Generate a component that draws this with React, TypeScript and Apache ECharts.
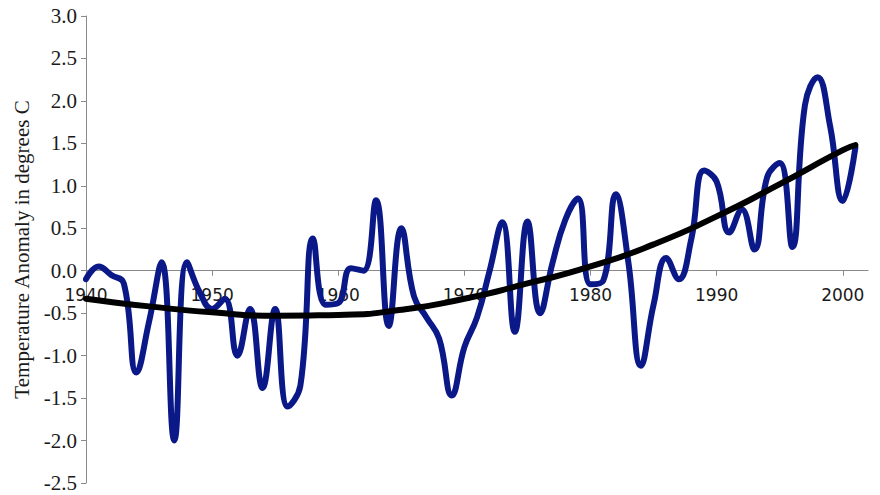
import React, { useEffect, useRef } from "react";
import * as echarts from "echarts";

const years = [
  1940, 1941, 1942, 1943, 1944, 1945, 1946, 1947, 1948, 1949,
  1950, 1951, 1952, 1953, 1954, 1955, 1956, 1957, 1958, 1959,
  1960, 1961, 1962, 1963, 1964, 1965, 1966, 1967, 1968, 1969,
  1970, 1971, 1972, 1973, 1974, 1975, 1976, 1977, 1978, 1979,
  1980, 1981, 1982, 1983, 1984, 1985, 1986, 1987, 1988, 1989,
  1990, 1991, 1992, 1993, 1994, 1995, 1996, 1997, 1998, 1999,
  2000, 2001,
];

const anomaly = [
  -0.1, 0.05, -0.05, -0.15, -1.2, -0.6, 0.1, -2.0, 0.1, -0.25,
  -0.45, -0.33, -1.0, -0.45, -1.38, -0.45, -1.6, -1.35, 0.38, -0.4,
  -0.38, 0.03, 0.0, 0.83, -0.65, 0.5, -0.3, -0.55, -0.8, -1.47,
  -0.9, -0.55, 0.0, 0.57, -0.72, 0.58, -0.5, 0.1, 0.6, 0.85,
  -0.16, -0.12, 0.9, 0.1, -1.12, -0.4, 0.15, -0.1, 0.38, 1.18,
  1.05, 0.45, 0.72, 0.25, 1.1, 1.27, 0.28, 1.95, 2.28, 1.7,
  0.82, 1.45,
];

const trendYears = [1940, 1945, 1950, 1955, 1960, 1965, 1970, 1975, 1980, 1985, 1990, 1995, 2000, 2001];
const trendValues = [-0.33, -0.42, -0.49, -0.53, -0.52, -0.46, -0.33, -0.15, 0.05, 0.31, 0.64, 1.02, 1.42, 1.48];

const xTicks = [1940, 1950, 1960, 1970, 1980, 1990, 2000];

const GRID_TOP = 16;
const GRID_BOTTOM = 12;
const CHART_H = 495;
const Y_MIN = -2.5;
const Y_MAX = 3.0;

export default function App() {
  const ref = useRef<HTMLDivElement>(null);

  useEffect(() => {
    if (!ref.current) return;
    const chart = echarts.init(ref.current, undefined, { renderer: "svg" });
    const plotH = CHART_H - GRID_TOP - GRID_BOTTOM;
    // distance from grid bottom up to the zero line
    const zeroOffset = (plotH * (0 - Y_MIN)) / (Y_MAX - Y_MIN);
    chart.setOption({
      animation: false,
      backgroundColor: "#ffffff",
      grid: {
        left: 86,
        right: 12,
        top: GRID_TOP,
        bottom: GRID_BOTTOM,
        containLabel: false,
        outerBoundsMode: "none",
      },
      xAxis: {
        type: "value",
        min: 1940,
        max: 2002,
        interval: 10,
        position: "bottom",
        offset: -zeroOffset,
        splitLine: { show: false },
        axisLine: { onZero: false, lineStyle: { color: "#8a8a8a", width: 1 } },
        axisTick: { show: true, length: 5, customValues: xTicks.slice(1), lineStyle: { color: "#8a8a8a" } },
        axisLabel: {
          customValues: xTicks,
          margin: 16,
          fontFamily: "DejaVu Sans",
          fontSize: 17,
          color: "#1a1a1a",
          formatter: (v: number) => String(v),
        },
      },
      yAxis: {
        type: "value",
        min: Y_MIN,
        max: Y_MAX,
        interval: 0.5,
        name: "Temperature Anomaly in degrees C",
        nameLocation: "middle",
        nameGap: 52,
        nameTextStyle: { fontFamily: "Liberation Serif", fontSize: 21, color: "#1a1a1a" },
        splitLine: { show: false },
        axisLine: { show: true, onZero: false, lineStyle: { color: "#8a8a8a", width: 1 } },
        axisTick: { show: true, length: 5, lineStyle: { color: "#8a8a8a" } },
        axisLabel: {
          margin: 9,
          fontFamily: "Liberation Serif",
          fontSize: 21,
          color: "#1a1a1a",
          formatter: (v: number) => v.toFixed(1),
        },
      },
      series: [
        {
          type: "line",
          data: years.map((y, i) => [y, anomaly[i]]),
          smooth: 0.45,
          showSymbol: false,
          lineStyle: { color: "#0a1888", width: 6, cap: "round", join: "round" },
          z: 2,
        },
        {
          type: "line",
          data: trendYears.map((y, i) => [y, trendValues[i]]),
          smooth: 0.6,
          showSymbol: false,
          lineStyle: { color: "#000000", width: 6, cap: "round" },
          z: 3,
        },
      ],
    });
    return () => chart.dispose();
  }, []);

  return (
    <div
      ref={ref}
      style={{ position: "fixed", left: 0, top: 0, width: 880, height: 495, background: "#fff" }}
    />
  );
}
